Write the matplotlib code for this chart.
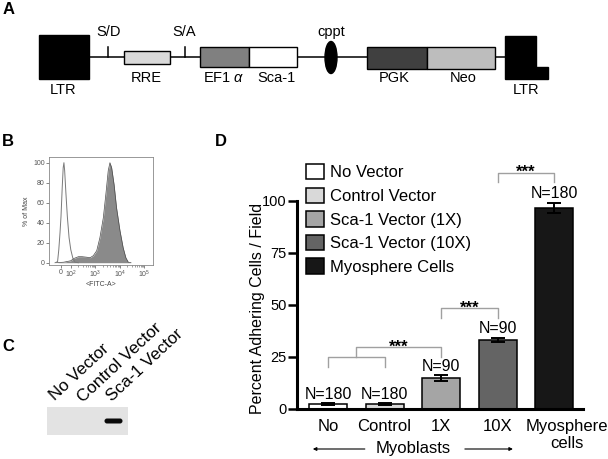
import matplotlib
matplotlib.use("Agg")
import matplotlib.pyplot as plt
from matplotlib.patches import Rectangle, Ellipse, Polygon, Patch, FancyBboxPatch
import matplotlib.transforms as mtransforms
import numpy as np

plt.rcParams['font.family'] = ['Liberation Sans', 'DejaVu Sans']
plt.rcParams['mathtext.fontset'] = 'custom'
plt.rcParams['mathtext.rm'] = 'Liberation Sans'
plt.rcParams['mathtext.it'] = 'Liberation Sans:italic'

# ---------------- Panel D data ----------------
groups = ["No", "Control", "1X", "10X", "Myosphere\ncells"]
legend_labels = ["No Vector", "Control Vector", "Sca-1 Vector (1X)",
                 "Sca-1 Vector (10X)", "Myosphere Cells"]
values = [2.4, 2.4, 15.0, 33.3, 96.7]
errors = [0.3, 0.3, 1.3, 1.0, 2.5]
n_labels = ["N=180", "N=180", "N=90", "N=90", "N=180"]
bar_colors = ["#ffffff", "#d9d9d9", "#a5a5a5", "#646464", "#171717"]
yticks = [0, 25, 50, 75, 100]
comparisons = [((0.5, 2), "***"), ((2, 3), "***"), ((3, 4), "***")]

# ---------------- Panel B data (x in decade display units) ----------------
hist_tick_pos = [1.57, 2, 3, 4, 5]
hist_tick_labels = ["0", "$10^2$", "$10^3$", "$10^4$", "$10^5$"]
ctrl_x = [1.35, 1.45, 1.50, 1.55, 1.59, 1.64, 1.68, 1.71, 1.74, 1.79, 1.85, 1.92, 1.99, 2.07, 2.16, 2.30]
ctrl_y = [0, 1, 13, 30, 46, 75, 95, 100, 92, 70, 46, 25, 13, 5, 0.5, 0]
sca_x = [1.40, 1.70, 2.00, 2.09, 2.20, 2.30, 2.45, 2.64, 2.78, 2.91, 3.05, 3.18, 3.32, 3.43, 3.52,
         3.59, 3.66, 3.76, 3.86, 4.00, 4.13, 4.24, 4.34, 4.45]
sca_y = [0, 0.5, 2, 4, 5, 6, 6, 5.5, 5, 7, 12, 25, 45, 70, 92,
         100, 95, 78, 55, 32, 15, 5, 0.5, 0]
hist_yticks = [0, 20, 40, 60, 80, 100]

# ---------------- Panel A elements ----------------
a_labels = ["LTR", "RRE", "EF1 $\\alpha$", "Sca-1", "PGK", "Neo", "LTR"]
a_colors = ["#000000", "#d9d9d9", "#808080", "#ffffff", "#404040", "#bdbdbd", "#000000"]
a_sites = ["S/D", "S/A", "cppt"]

# ---------------- Panel C ----------------
blot_lanes = ["No Vector", "Control Vector", "Sca-1 Vector"]
blot_band = [0, 0, 1]

W, H = 608, 459
fig = plt.figure(figsize=(W / 100, H / 100), dpi=100)


def rect(l, t, r, b):
    return [l / W, 1 - b / H, (r - l) / W, (b - t) / H]


# overlay axes in pixel coordinates
ov = fig.add_axes([0, 0, 1, 1])
ov.set_xlim(0, W)
ov.set_ylim(H, 0)
ov.axis('off')

# ---- Panel A schematic ----
ov.plot([89, 505], [57, 57], color='black', lw=1.1, zorder=1)
ov.plot([108, 108], [57, 47], color='black', lw=1.1)
ov.plot([185, 185], [57, 47], color='black', lw=1.1)
boxes = [(39, 35, 89, 79), (124, 51, 170, 64), (200, 47, 249, 67), (249, 47, 297, 67),
         (367, 47, 427, 69), (427, 47, 495, 69)]
for (l, t, r, b), c in zip(boxes, a_colors[:6]):
    ov.add_patch(Rectangle((l, t), r - l, b - t, facecolor=c, edgecolor='black', lw=1.0, zorder=2))
ov.add_patch(Polygon([(505, 36), (536, 36), (536, 67), (548, 67), (548, 79), (505, 79)],
                     closed=True, facecolor=a_colors[6], edgecolor='black', lw=1.0, zorder=2))
ov.add_patch(Ellipse((331, 57.5), 12, 32, facecolor='black', edgecolor='black', zorder=3))
lab_pos = [(63, 90), (146, 78), (224, 78), (276, 78), (394, 78), (463, 78), (526, 90)]
for (x, y), s in zip(lab_pos, a_labels):
    ov.text(x, y, s, ha='center', va='center', fontsize=10.5)
for (x, y), s in zip([(109, 32), (184, 32), (331, 32)], a_sites):
    ov.text(x, y, s, ha='center', va='center', fontsize=10.5)

# ---- Panel C blot ----
ov.add_patch(Rectangle((47, 407), 81, 28, facecolor='#e3e3e3', edgecolor='none'))
lane_x = [64, 89, 113.5]
for x, b in zip(lane_x, blot_band):
    if b:
        ov.add_patch(FancyBboxPatch((x - 8.5, 419), 17, 4, boxstyle="round,pad=0.5,rounding_size=2.5",
                                    facecolor='#0a0a0a', edgecolor='none'))
for (x, y), s in zip([(55, 401), (83, 403), (112, 402)], blot_lanes):
    ov.text(x, y, s, rotation=43, rotation_mode='anchor', ha='left', va='baseline', fontsize=12.3)

# panel letters
for x, y, s in [(3, 2, "A"), (2, 134, "B"), (2, 339, "C"), (215, 134, "D")]:
    ov.text(x, y, s, fontsize=12, fontweight='bold', ha='left', va='top')

# ---- Panel B histogram ----
axb = fig.add_axes(rect(49, 157, 153, 265))
axb.fill_between(sca_x, sca_y, color='#8a8a8a', lw=0)
axb.plot(sca_x, sca_y, color='#4a4a4a', lw=0.5)
axb.plot(ctrl_x, ctrl_y, color='#7a7a7a', lw=0.7)
axb.set_xlim(1.10, 5.35)
axb.set_ylim(-2.3, 105.7)
axb.set_yticks(hist_yticks)
axb.set_xticks(hist_tick_pos)
axb.set_xticklabels(hist_tick_labels)
minor = [k + np.log10(m) for k in (2, 3, 4) for m in range(2, 10)]
axb.set_xticks(minor, minor=True)
axb.tick_params(labelsize=5, length=2, width=0.5, colors='#555555', pad=1)
axb.tick_params(which='minor', length=1.2, width=0.4, colors='#555555')
for sp in axb.spines.values():
    sp.set_color('#888888')
    sp.set_linewidth(0.6)
axb.set_ylabel("% of Max", fontsize=5, color='#444444', labelpad=2)
axb.set_xlabel("<FITC-A>", fontsize=5, color='#444444', labelpad=0.5)

# ---- Panel D bar chart ----
ax = fig.add_axes(rect(297, 149, 583, 409))
x = np.arange(len(groups))
ax.bar(x, values, width=0.67, color=bar_colors, edgecolor='black', linewidth=1.1, zorder=2)
ax.errorbar(x, values, yerr=errors, fmt='none', ecolor='black', elinewidth=1.4,
            capsize=5, capthick=1.4, zorder=3)
for xi, v, e, s in zip(x, values, errors, n_labels):
    ax.annotate(s, (xi, v + e), xytext=(0, 3), textcoords='offset points',
                ha='center', va='baseline', fontsize=11.5)
ax.set_xlim(-0.55, 4.51)
ax.set_ylim(0, 125)
ax.spines['top'].set_visible(False)
ax.spines['right'].set_visible(False)
ax.spines['left'].set_bounds(0, 100)
ax.spines['left'].set_linewidth(2.2)
ax.spines['bottom'].set_linewidth(2.2)
ax.set_yticks(yticks)
ax.set_yticklabels([str(t) for t in yticks])
ax.tick_params(axis='y', length=6.5, width=1.8, labelsize=10.5, pad=1)
ax.set_xticks(x)
ax.set_xticklabels(groups, fontsize=12)
ax.tick_params(axis='x', length=0, pad=7)
lbls = ax.get_xticklabels()
lbls[-1].set_transform(lbls[-1].get_transform() + mtransforms.ScaledTranslation(13 / 100, 0, fig.dpi_scale_trans))
ax.set_ylabel("Percent Adhering Cells / Field", fontsize=11.5)
ax.yaxis.set_label_coords(-0.113, 0.385)

# significance brackets
bcol = '#a0a0a0'
ax.plot([0, 0, 1, 1], [20.2, 25, 25, 20.2], color=bcol, lw=1.0, clip_on=False)
spans = [(29.8, 25.0, 27.6), (48.6, 43.8, 46.4), (113.6, 109.3, 111.5)]
for ((x0, x1), star), (ytop, yleg, ystar) in zip(comparisons, spans):
    left_bottom = 25.0 if x0 == 0.5 else yleg
    ax.plot([x0, x0, x1, x1], [left_bottom, ytop, ytop, yleg], color=bcol, lw=1.0, clip_on=False)
    ax.text((x0 + x1) / 2, ystar, star, ha='center', va='baseline', fontsize=12, fontweight='bold')

# legend
handles = [Patch(facecolor=c, edgecolor='black', linewidth=1.1) for c in bar_colors]
ax.legend(handles, legend_labels, loc='upper left', bbox_to_anchor=(306 / W, 1 - 164 / H),
          bbox_transform=fig.transFigure, frameon=False, fontsize=12,
          handlelength=1.05, handleheight=1.05, handletextpad=0.4, labelspacing=0.43,
          borderpad=0, borderaxespad=0)

# Myoblasts annotation
tr = ax.get_xaxis_transform()
yf = (409 - 449) / 260
ax.text(1.5, yf, "Myoblasts", transform=tr, ha='center', va='center', fontsize=12)
for a, b in [(0.65, -0.27), (2.42, 3.27)]:
    ax.annotate('', xy=(b, yf), xytext=(a, yf), xycoords=tr, textcoords=tr,
                arrowprops=dict(arrowstyle='-|>', lw=0.8, color='black', mutation_scale=5,
                                shrinkA=0, shrinkB=0))

fig.savefig("out.png", dpi=100)
